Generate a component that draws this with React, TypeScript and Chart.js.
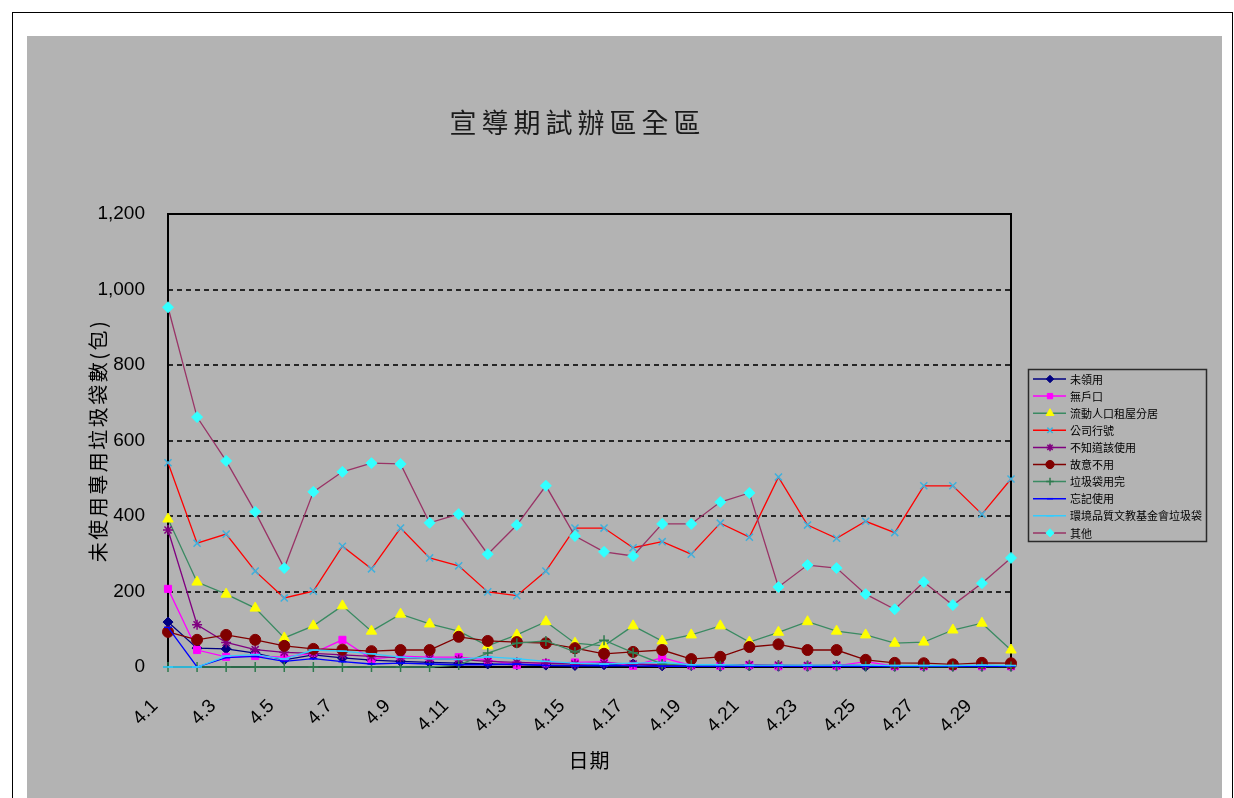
import React, { useEffect, useRef } from 'react';
import { Chart, registerables } from 'chart.js';
import { drawPoint } from 'chart.js/helpers';

Chart.register(...registerables);

const dates = [
  '4.1', '4.2', '4.3', '4.4', '4.5', '4.6', '4.7', '4.8', '4.9', '4.10',
  '4.11', '4.12', '4.13', '4.14', '4.15', '4.16', '4.17', '4.18', '4.19', '4.20',
  '4.21', '4.22', '4.23', '4.24', '4.25', '4.26', '4.27', '4.28', '4.29', '4.30',
];

const seriesNames = [
  '未領用', '無戶口', '流動人口租屋分居', '公司行號', '不知道該使用',
  '故意不用', '垃圾袋用完', '忘記使用', '環境品質文教基金會垃圾袋', '其他',
];

const unclaimed = [119, 50, 48, 37, 19, 32, 24, 18, 15, 12, 10, 8, 6, 5, 4, 6, 8, 3, 4, 2, 3, 2, 2, 3, 2, 2, 2, 2, 2, 2];
const noHousehold = [207, 45, 27, 29, 26, 37, 72, 21, 29, 26, 26, 19, 5, 10, 12, 14, 3, 25, 4, 3, 5, 2, 2, 3, 14, 2, 2, 2, 2, 2];
const floating = [392, 225, 193, 156, 77, 109, 162, 95, 140, 114, 95, 56, 85, 120, 63, 56, 109, 69, 85, 109, 66, 92, 120, 95, 85, 63, 66, 98, 116, 45];
const company = [541, 328, 352, 254, 183, 201, 320, 260, 368, 289, 268, 199, 189, 254, 368, 368, 316, 332, 299, 381, 344, 503, 376, 341, 386, 356, 480, 480, 405, 498];
const unknownUse = [363, 112, 65, 46, 39, 36, 32, 28, 25, 22, 20, 15, 12, 10, 8, 10, 8, 6, 5, 5, 6, 5, 4, 5, 4, 3, 3, 3, 4, 3];
const deliberate = [93, 72, 85, 72, 56, 48, 46, 42, 45, 45, 80, 69, 66, 63, 50, 35, 40, 45, 21, 27, 53, 60, 45, 45, 19, 11, 10, 7, 11, 10];
const ranOut = [0, 0, 0, 0, 0, 0, 0, 0, 0, 0, 5, 37, 63, 69, 40, 71, 38, 8, 5, 3, 3, 3, 2, 2, 2, 1, 1, 1, 1, 1];
const forgot = [105, 0, 25, 28, 15, 22, 14, 8, 10, 8, 6, 6, 8, 4, 3, 4, 3, 2, 2, 2, 2, 2, 2, 2, 2, 2, 2, 2, 2, 2];
const foundationBags = [0, 0, 29, 33, 21, 45, 42, 35, 26, 22, 20, 27, 22, 15, 10, 8, 10, 12, 6, 6, 5, 5, 5, 5, 5, 4, 4, 4, 5, 4];
const other = [953, 662, 546, 411, 262, 464, 517, 540, 538, 382, 405, 299, 376, 480, 347, 305, 294, 379, 379, 437, 461, 212, 270, 262, 193, 153, 225, 164, 222, 289];

const seriesValues = [unclaimed, noHousehold, floating, company, unknownUse, deliberate, ranOut, forgot, foundationBags, other];

const yTicks = [0, 200, 400, 600, 800, 1000, 1200];

const seriesStyles = [
  { line: '#000080', marker: '#000080', style: 'rectRot', r: 5, filled: true },
  { line: '#FF00FF', marker: '#FF00FF', style: 'rect', r: 5, filled: true },
  { line: '#3A8A62', marker: '#FFFF00', style: 'triangle', r: 6, filled: true },
  { line: '#FF0000', marker: '#3FB0DC', style: 'crossRot', r: 5, filled: false },
  { line: '#800080', marker: '#800080', style: 'star', r: 5, filled: false },
  { line: '#800000', marker: '#800000', style: 'circle', r: 5.5, filled: true },
  { line: '#3A8A62', marker: '#2E7A4E', style: 'cross', r: 5, filled: false },
  { line: '#0000FF', marker: '#0000FF', style: 'line', r: 4, filled: false },
  { line: '#33CCFF', marker: '#33CCFF', style: 'line', r: 5, filled: false },
  { line: '#993366', marker: '#33FFFF', style: 'rectRot', r: 5.5, filled: true },
];

const CJK = '"Noto Sans CJK TC", "Noto Sans CJK SC", sans-serif';
const LATIN = '"Liberation Sans", Arial, sans-serif';

const decorPlugin = {
  id: 'decor',
  beforeDatasetsDraw(chart: any) {
    const { ctx, chartArea } = chart;
    const { left, top, right, bottom } = chartArea;
    ctx.save();
    ctx.strokeStyle = '#000';
    ctx.lineWidth = 2;
    ctx.beginPath();
    ctx.moveTo(left, bottom + 1);
    ctx.lineTo(left, top);
    ctx.lineTo(right, top);
    ctx.lineTo(right, bottom + 1);
    ctx.stroke();
    ctx.beginPath();
    ctx.moveTo(left - 1, bottom);
    ctx.lineTo(right + 1, bottom);
    ctx.stroke();
    ctx.restore();
  },
  afterDraw(chart: any) {
    const { ctx, chartArea } = chart;
    const { left, top, right, bottom } = chartArea;
    ctx.save();
    // title
    ctx.fillStyle = '#1a1a1a';
    ctx.textAlign = 'center';
    ctx.textBaseline = 'middle';
    ctx.font = `27px ${CJK}`;
    (ctx as any).letterSpacing = '5px';
    ctx.fillText('宣導期試辦區全區', (left + right) / 2 - 12, top - 91);
    // y-axis title
    ctx.save();
    ctx.translate(left - 70, (top + bottom) / 2);
    ctx.rotate(-Math.PI / 2);
    ctx.font = `20px ${CJK}`;
    (ctx as any).letterSpacing = '2.5px';
    ctx.fillStyle = '#000';
    ctx.fillText('未使用專用垃圾袋數(包)', 0, 0);
    ctx.restore();
    // x-axis title
    ctx.font = `20px ${CJK}`;
    (ctx as any).letterSpacing = '1px';
    ctx.fillStyle = '#000';
    ctx.fillText('日期', (left + right) / 2, bottom + 93);
    (ctx as any).letterSpacing = '0px';

    // legend
    const bx = right + 17;
    const by = top + 155;
    const bw = 178;
    const bh = 172;
    ctx.strokeStyle = '#2a2a2a';
    ctx.lineWidth = 1.5;
    ctx.strokeRect(bx + 0.5, by + 0.5, bw, bh);
    ctx.textAlign = 'left';
    ctx.textBaseline = 'middle';
    ctx.font = `11px ${CJK}`;
    seriesNames.forEach((name, i) => {
      const s = seriesStyles[i];
      const y = by + 10 + i * 17.1;
      ctx.strokeStyle = s.line;
      ctx.lineWidth = 1.5;
      ctx.beginPath();
      ctx.moveTo(bx + 5, y);
      ctx.lineTo(bx + 38, y);
      ctx.stroke();
      ctx.fillStyle = s.marker;
      ctx.strokeStyle = s.marker;
      ctx.lineWidth = s.filled ? 1 : 1.5;
      drawPoint(ctx, { pointStyle: s.style as any, radius: s.r * 0.75, rotation: 0, borderWidth: s.filled ? 1 : 1.5 }, bx + 22, y);
      ctx.fillStyle = '#000';
      ctx.fillText(name, bx + 42, y + 0.5);
    });
    ctx.restore();
  },
};

export default function App() {
  const ref = useRef<HTMLCanvasElement>(null);
  useEffect(() => {
    const canvas = ref.current;
    if (!canvas) return;
    const chart = new Chart(canvas, {
      type: 'line',
      data: {
        labels: dates,
        datasets: seriesNames.map((name, i) => {
          const s = seriesStyles[i];
          return {
            label: name,
            data: seriesValues[i],
            borderColor: s.line,
            borderWidth: 1.3,
            backgroundColor: s.marker,
            pointBackgroundColor: s.marker,
            pointBorderColor: s.marker,
            pointStyle: s.style as any,
            pointRadius: s.r,
            pointBorderWidth: s.filled ? 1 : 1.5,
            tension: 0,
            fill: false,
            clip: false as any,
            order: 10 - i,
          };
        }),
      },
      options: {
        responsive: false,
        animation: false,
        events: [],
        layout: { padding: { top: 178, right: 211, left: 0, bottom: 0 } },
        plugins: {
          legend: { display: false },
          title: { display: false },
          tooltip: { enabled: false },
        },
        scales: {
          x: {
            type: 'category',
            offset: false,
            grid: { display: false, drawTicks: false },
            border: { display: false },
            afterFit: (scale: any) => { scale.height = 131; },
            ticks: {
              autoSkip: false,
              minRotation: 45,
              maxRotation: 45,
              padding: 28,
              labelOffset: -13,
              color: '#000',
              font: { family: LATIN, size: 19 },
              callback: (_v: any, i: number) => (i % 2 === 0 ? dates[i] : ''),
            },
          },
          y: {
            min: 0,
            max: 1200,
            afterFit: (scale: any) => { scale.width = 141; },
            afterBuildTicks: (scale: any) => { scale.ticks = yTicks.map((v) => ({ value: v })); },
            grid: {
              drawTicks: false,
              lineWidth: 2,
              color: (c: any) => (c.tick && c.tick.value > 0 && c.tick.value < 1200 ? '#262626' : 'rgba(0,0,0,0)'),
            },
            border: { display: false, dash: [5, 4] },
            ticks: {
              padding: 23,
              color: '#000',
              font: { family: LATIN, size: 19 },
              callback: (v: any) => Number(v).toLocaleString('en-US'),
            },
          },
        },
      },
      plugins: [decorPlugin],
    } as any);
    return () => chart.destroy();
  }, []);

  return (
    <div style={{ position: 'fixed', left: 0, top: 0, width: 1234, height: 798, background: '#fff', overflow: 'hidden' }}>
      <div style={{ position: 'absolute', left: 12, top: 12, width: 1221, height: 800, border: '1px solid #000', boxSizing: 'border-box' }} />
      <div style={{ position: 'absolute', left: 27, top: 36, width: 1195, height: 762, background: '#b3b3b3' }}>
        <canvas ref={ref} width={1195} height={762} style={{ display: 'block', width: 1195, height: 762 }} />
      </div>
    </div>
  );
}
